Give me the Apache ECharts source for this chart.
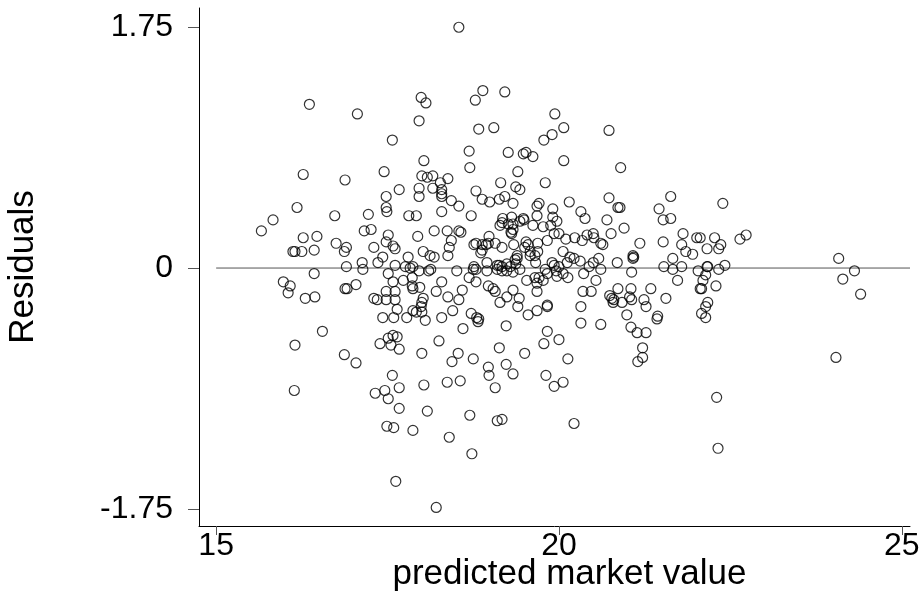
<!DOCTYPE html>
<html><head><meta charset="utf-8">
<script src="https://cdn.jsdelivr.net/npm/echarts@6/dist/echarts.min.js"></script>
<style>html,body{margin:0;padding:0;background:#fff}#c{width:923px;height:596px}</style>
</head><body><div id="c"></div>
<script>
const predicted = [
15.66,15.83,16.18,16.36,17.06,17.57,16.27,16.88,17.45,17.67,
17.48,17.48,17.49,16.73,17.22,17.16,17.26,16.27,16.47,16.12,
16.15,16.25,16.43,16.75,16.87,16.90,17.30,17.51,17.48,17.58,
17.61,17.43,17.36,17.13,17.14,16.90,17.61,16.43,17.51,15.98,
16.08,16.05,16.30,16.44,16.88,16.91,17.04,17.58,17.48,17.61,
17.30,17.35,17.48,17.61,17.64,17.43,17.59,16.55,17.58,17.64,
17.51,16.15,16.87,17.04,16.14,17.39,17.55,17.67,17.57,17.32,
17.46,17.51,17.67,17.67,17.49,17.59,17.62,
17.99,18.06,18.78,18.89,19.21,17.96,18.83,19.05,19.94,19.78,
19.90,18.69,19.26,19.48,19.52,19.62,18.03,18.70,19.40,18.00,
18.08,18.16,18.27,18.38,17.96,17.96,18.16,18.29,18.29,18.29,
18.79,19.15,19.37,19.43,19.80,18.43,18.54,18.88,18.99,19.13,
19.21,19.33,19.68,19.71,19.91,17.81,17.92,18.29,18.72,19.18,
19.31,19.48,19.68,19.91,19.97,19.17,19.26,19.14,19.33,19.43,
19.49,19.30,19.31,19.33,19.62,19.77,19.88,19.93,20.00,18.18,
18.37,18.54,18.57,17.94,18.43,18.40,18.98,18.97,18.94,18.79,
18.76,18.88,18.88,18.86,19.07,19.17,19.34,19.52,19.55,19.50,
19.69,19.83,18.02,18.12,18.18,18.38,19.58,19.58,19.65,19.69,
19.39,19.39,19.36,18.95,19.10,19.13,19.17,19.24,19.29,19.37,
19.66,19.90,19.93,17.80,17.76,17.83,17.87,17.96,18.10,18.13,
18.51,18.76,18.79,18.75,18.95,19.10,19.17,19.24,19.33,19.43,
19.80,19.96,20.00,17.73,17.86,17.86,17.87,17.97,18.29,18.69,
18.79,18.97,19.04,19.07,19.33,19.53,19.65,19.71,19.77,19.68,
19.68,19.83,19.97,18.21,18.59,18.38,18.54,18.02,18.00,17.99,
19.24,19.42,19.14,19.40,19.83,19.83,17.78,17.87,17.92,18.00,
18.05,18.29,18.45,18.72,18.80,18.83,18.82,19.55,19.68,18.60,
19.23,19.83,18.25,20.00,18.00,18.53,18.44,18.75,19.13,18.97,
18.98,19.23,19.33,19.50,19.78,19.81,19.93,18.03,18.37,18.56,
19.07,18.08,17.87,18.70,19.10,19.17,18.40,18.73,18.21,18.54,
20.07,20.73,20.07,20.90,20.15,20.73,20.32,20.86,20.89,20.38,
20.70,21.63,21.46,21.52,21.63,20.95,20.76,20.10,20.23,20.34,
20.41,20.50,20.51,20.61,20.64,21.18,20.06,20.16,20.22,20.31,
20.12,20.58,20.50,20.44,20.61,20.85,21.08,21.09,21.08,21.52,
21.81,22.01,21.79,21.85,21.95,21.66,21.53,21.66,21.79,22.03,
20.06,20.13,20.36,20.54,21.06,21.73,20.35,20.47,20.86,21.05,
21.34,20.74,20.77,20.80,20.79,20.92,21.03,21.06,21.24,21.27,
21.56,20.32,20.99,21.44,21.43,20.32,20.61,21.05,21.14,21.27,
21.22,21.22,21.15,20.13,20.06,20.22,
22.39,22.64,22.73,22.27,22.36,22.33,22.16,22.06,22.16,22.17,
22.42,22.33,22.14,22.10,22.08,22.29,22.06,22.17,22.14,22.14,
22.08,24.08,24.31,24.14,24.40,24.04,22.30,22.32
];
const residuals = [
0.27,0.35,0.44,1.19,1.12,0.93,0.68,0.64,0.70,0.57,
0.52,0.44,0.41,0.38,0.39,0.27,0.28,0.22,0.23,0.12,
0.12,0.12,0.13,0.18,0.12,0.15,0.15,0.24,0.19,0.16,
0.14,0.08,0.04,0.04,-0.01,0.01,0.02,-0.04,-0.04,-0.10,
-0.13,-0.18,-0.22,-0.21,-0.15,-0.15,-0.12,-0.10,-0.17,-0.17,
-0.22,-0.23,-0.23,-0.23,-0.30,-0.36,-0.36,-0.46,-0.49,-0.50,
-0.51,-0.56,-0.63,-0.69,-0.89,-0.55,-0.56,-0.59,-0.78,-0.91,
-0.89,-0.95,-0.87,-1.02,-1.15,-1.16,-1.55,
1.24,1.20,1.22,1.29,1.28,1.07,1.01,1.02,1.12,0.93,
0.97,0.85,0.84,0.83,0.84,0.81,0.78,0.73,0.70,0.67,
0.66,0.67,0.62,0.65,0.58,0.52,0.58,0.57,0.54,0.52,
0.56,0.62,0.59,0.57,0.62,0.49,0.45,0.50,0.48,0.50,
0.52,0.47,0.45,0.47,0.43,0.38,0.38,0.41,0.38,0.36,
0.37,0.36,0.38,0.37,0.34,0.33,0.32,0.31,0.32,0.34,
0.35,0.26,0.25,0.28,0.31,0.30,0.31,0.25,0.25,0.27,
0.27,0.27,0.26,0.23,0.20,0.15,0.23,0.18,0.17,0.18,
0.17,0.17,0.13,0.11,0.18,0.15,0.17,0.19,0.17,0.15,
0.18,0.20,0.12,0.09,0.08,0.09,0.12,0.09,0.09,0.12,
0.09,0.07,0.06,0.04,0.02,0.02,0.01,0.03,0.01,0.03,
0.04,0.04,0.02,0.08,0.01,0.00,0.01,-0.02,-0.02,-0.01,
-0.02,0.01,-0.01,-0.01,-0.02,-0.01,-0.02,-0.02,-0.03,-0.01,
-0.01,-0.02,0.01,-0.09,-0.07,-0.13,-0.15,-0.14,-0.10,-0.07,
-0.10,-0.13,-0.15,-0.17,-0.16,-0.09,-0.07,-0.07,-0.09,-0.11,
-0.17,-0.04,-0.06,-0.17,-0.16,-0.21,-0.23,-0.22,-0.25,-0.28,
-0.21,-0.22,-0.25,-0.28,-0.27,-0.28,-0.36,-0.31,-0.32,-0.32,
-0.38,-0.36,-0.31,-0.33,-0.36,-0.37,-0.39,-0.34,-0.31,-0.44,
-0.42,-0.46,-0.53,-0.52,-0.62,-0.62,-0.68,-0.66,-0.58,-0.72,
-0.78,-0.70,-0.77,-0.62,-0.55,-0.78,-0.86,-0.85,-0.83,-0.82,
-0.87,-1.04,-1.18,-1.07,-1.11,-1.10,-1.23,-1.35,-1.74,1.75,
1.02,1.00,0.78,0.73,0.48,0.51,0.41,0.44,0.44,0.36,
0.35,0.52,0.43,0.35,0.36,0.29,0.25,0.21,0.22,0.20,
0.24,0.25,0.22,0.18,0.17,0.18,0.12,0.08,0.07,0.05,
0.04,0.07,0.04,0.01,-0.01,0.04,0.09,0.08,0.07,0.19,
0.25,0.22,0.17,0.12,0.10,0.07,0.01,-0.01,0.01,-0.02,
-0.04,-0.07,-0.04,-0.09,-0.03,-0.09,-0.17,-0.17,-0.15,-0.15,
-0.15,-0.20,-0.22,-0.23,-0.25,-0.25,-0.21,-0.23,-0.23,-0.28,
-0.22,-0.28,-0.34,-0.35,-0.37,-0.40,-0.41,-0.43,-0.47,-0.47,
-0.58,-0.65,-0.68,-0.66,-0.83,-1.13,
0.47,0.21,0.24,0.22,0.17,0.14,0.14,0.22,0.01,0.01,
0.02,-0.01,-0.05,-0.09,-0.15,-0.13,-0.15,-0.25,-0.28,-0.36,
-0.33,0.07,-0.02,-0.08,-0.19,-0.65,-0.94,-1.31
];
const xTicks = [15, 20, 25];
const yTicks = [-1.75, 0, 1.75];
const xTitle = 'predicted market value';
const yTitle = 'Residuals';
const xRange = [14.75, 25.12];
const yRange = [-1.875, 1.89];
const zeroLine = [[15, 0], [25.12, 0]];

const FONT = '"Liberation Sans", Arial, Helvetica, sans-serif';
const points = predicted.map((x, i) => [x, residuals[i]]);
const chart = echarts.init(document.getElementById('c'), null, {renderer: 'canvas'});
chart.setOption({
  animation: false,
  backgroundColor: '#fff',
  grid: {left: 199, right: 13, top: 8, bottom: 70, containLabel: false, outerBoundsMode: 'none'},
  xAxis: {
    type: 'value', min: xRange[0], max: xRange[1],
    axisLine: {show: true, onZero: false, lineStyle: {color: '#000', width: 1}},
    splitLine: {show: false},
    axisTick: {show: true, customValues: xTicks, length: 9, lineStyle: {color: '#555'}},
    axisLabel: {customValues: xTicks, fontSize: 32, color: '#000', fontFamily: FONT, margin: 4},
    name: xTitle, nameLocation: 'middle', nameGap: 31, nameMoveOverlap: false,
    nameTextStyle: {fontSize: 35, color: '#000', fontFamily: FONT, padding: [0, 0, 0, 30]}
  },
  yAxis: {
    type: 'value', min: yRange[0], max: yRange[1],
    axisLine: {show: true, onZero: false, lineStyle: {color: '#000', width: 1}},
    splitLine: {show: false},
    axisTick: {show: true, customValues: yTicks, length: 11, lineStyle: {color: '#555'}},
    axisLabel: {customValues: yTicks, fontSize: 32, color: '#000', fontFamily: FONT, margin: 26},
    name: yTitle, nameLocation: 'middle', nameGap: 158, nameMoveOverlap: false,
    nameTextStyle: {fontSize: 35, color: '#000', fontFamily: FONT}
  },
  series: [
    {type: 'line', data: zeroLine, symbol: 'none', silent: true,
     lineStyle: {color: '#555', width: 1}, z: 1},
    {type: 'scatter', data: points, symbol: 'circle', symbolSize: 10,
     itemStyle: {color: 'rgba(0,0,0,0)', borderColor: '#000', borderWidth: 1.2}, z: 2}
  ]
});
</script></body></html>
